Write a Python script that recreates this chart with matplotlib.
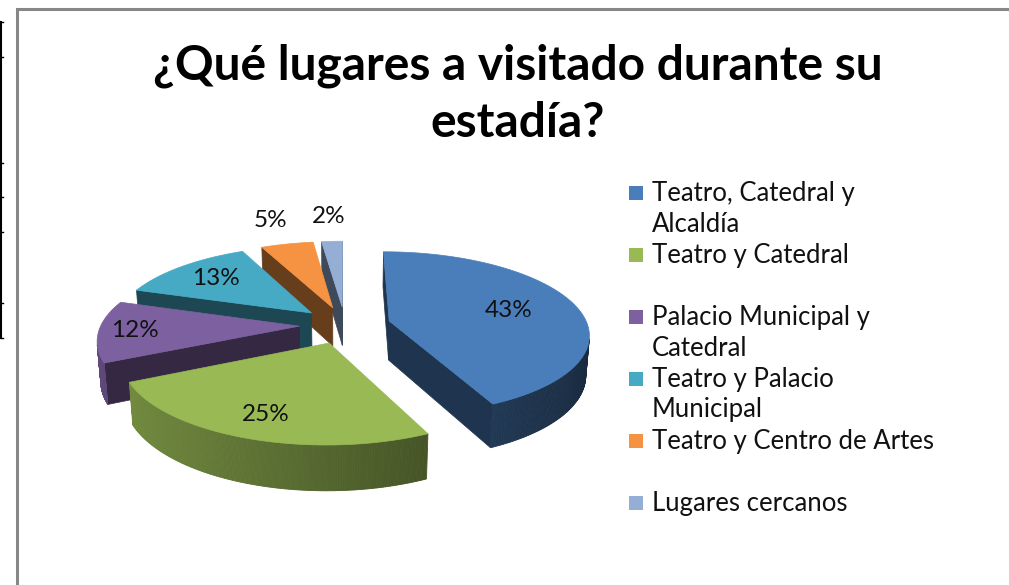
import numpy as np
import matplotlib.pyplot as plt
from matplotlib.patches import Polygon, Rectangle
from matplotlib.collections import PolyCollection
import matplotlib.colors as mcolors

plt.rcParams['font.family'] = ['Lato', 'DejaVu Sans']

# Dati
lugares = ['Teatro, Catedral y\nAlcaldía', 'Teatro y Catedral',
           'Palacio Municipal y\nCatedral', 'Teatro y Palacio\nMunicipal',
           'Teatro y Centro de Artes', 'Lugares cercanos']
porcentajes = [43, 25, 12, 13, 5, 2]
etiquetas = ['43%', '25%', '12%', '13%', '5%', '2%']
colores = ['#4A7EBB', '#98B954', '#7D60A0', '#46AAC5', '#F59342', '#94AED6']

# Vista 3D (prospettiva semplice, coordinate in pixel)
CX, CY = 345, 325
F, D, ELEV = 1210, 6.1, np.radians(24)
H = 0.22
EXPLODE = 0.23
label_r = [0.64, 0.78, 0.82, 0.72, 1.45, 1.45]

cam = np.array([0.0, -D * np.cos(ELEV), D * np.sin(ELEV)])


def proj(X, Y, Z):
    dist = D + Y * np.cos(ELEV) - Z * np.sin(ELEV)
    u = F * X / dist
    w = F * (Y * np.sin(ELEV) + Z * np.cos(ELEV)) / dist
    return CX + u, CY - w


def shade(col, k):
    r, g, b = mcolors.to_rgb(col)
    return (r * k, g * k, b * k)


fig = plt.figure(figsize=(10.09, 5.85), dpi=100)
ax = fig.add_axes([0, 0, 1, 1])
ax.set_xlim(0, 1009)
ax.set_ylim(585, 0)
ax.axis('off')

# cornice del grafico
ax.plot([17, 17, 1009], [585, 9, 9], color='#878787', linewidth=2.2,
        solid_capstyle='butt', solid_joinstyle='miter')
# linea nera a sinistra
ax.plot([1, 1], [22, 338], color='black', linewidth=1.5)
for yy in [22, 57, 163, 197, 232, 303, 338]:
    ax.plot([1, 3], [yy, yy], color='black', linewidth=1)

# angoli delle fette (in senso orario da ore 12)
tot = sum(porcentajes)
starts = []
a = 90.0
for p in porcentajes:
    starts.append((a, a - 360.0 * p / tot))
    a -= 360.0 * p / tot

order = sorted(range(len(porcentajes)),
               key=lambda i: -np.sin(np.radians((starts[i][0] + starts[i][1]) / 2)))

for i in order:
    a_s, a_e = np.radians(starts[i][0]), np.radians(starts[i][1])
    m = (a_s + a_e) / 2
    ox, oy = EXPLODE * np.cos(m), EXPLODE * np.sin(m)
    col = colores[i]
    t = np.linspace(a_s, a_e, 200)

    # facce radiali visibili
    for ang, nrm in [(a_s, a_s + np.pi / 2), (a_e, a_e - np.pi / 2)]:
        n = np.array([np.cos(nrm), np.sin(nrm), 0])
        P = np.array([ox, oy, 0])
        if n @ (cam - P) > 0:
            rx, ry = ox + np.cos(ang), oy + np.sin(ang)
            pts = [proj(ox, oy, 0), proj(rx, ry, 0), proj(rx, ry, -H), proj(ox, oy, -H)]
            ax.add_patch(Polygon(pts, closed=True, facecolor=shade(col, 0.42),
                                 edgecolor=shade(col, 0.42), linewidth=0.5))

    # parete esterna (solo la parte visibile)
    X, Y = ox + np.cos(t), oy + np.sin(t)
    vis = np.cos(t) * (cam[0] - X) + np.sin(t) * (cam[1] - Y) > 0
    quads, cols = [], []
    for k in range(len(t) - 1):
        if vis[k] and vis[k + 1]:
            p1 = proj(X[k], Y[k], 0)
            p2 = proj(X[k + 1], Y[k + 1], 0)
            p3 = proj(X[k + 1], Y[k + 1], -H)
            p4 = proj(X[k], Y[k], -H)
            quads.append([p1, p2, p3, p4])
            kf = 0.55 - 0.22 * np.cos(t[k])
            cols.append(shade(col, kf))
    if quads:
        ax.add_collection(PolyCollection(quads, facecolors=cols, edgecolors=cols, linewidths=0.6))

    # faccia superiore
    top = [proj(ox, oy, 0)] + [proj(x, y, 0) for x, y in zip(X, Y)]
    ax.add_patch(Polygon(top, closed=True, facecolor=col, edgecolor=col, linewidth=0.5))

# etichette percentuali
for i in range(len(porcentajes)):
    m = np.radians((starts[i][0] + starts[i][1]) / 2)
    rr = EXPLODE + label_r[i]
    lx, ly = proj(rr * np.cos(m), rr * np.sin(m), 0)
    ax.text(lx, ly, etiquetas[i], ha='center', va='center', fontsize=17.5, color='#111111')

# titolo
ax.text(518, 80, '¿Qué lugares a visitado durante su', ha='center', va='baseline',
        fontsize=34.5, fontweight='bold')
ax.text(518, 137, 'estadía?', ha='center', va='baseline', fontsize=34.5, fontweight='bold')

# legenda
for i, lab in enumerate(lugares):
    y0 = 193 + i * 62
    ax.add_patch(Rectangle((629, y0 - 7), 14, 14, facecolor=colores[i], edgecolor='none'))
    for k, line in enumerate(lab.split('\n')):
        ax.text(652, y0 + k * 31, line, ha='left', va='center', fontsize=18.5, color='#111111')

fig.savefig('out.png', dpi=100, facecolor='white')
